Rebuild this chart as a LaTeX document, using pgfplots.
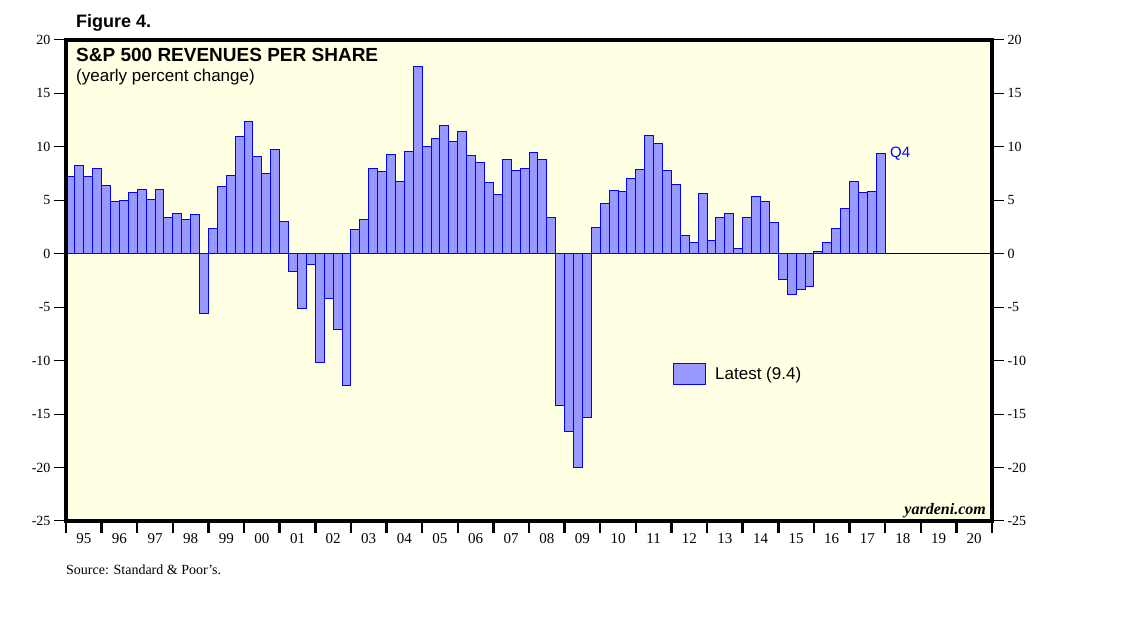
\documentclass[border=0pt]{standalone}
\usepackage{fontspec}
\setmainfont{Liberation Serif}
\newfontfamily\arial{Liberation Sans}
\usepackage{pgfplots}
\pgfplotsset{compat=1.18}
\usepackage{pgfplotstable}
\definecolor{bgyellow}{RGB}{255,255,227}
\definecolor{barfill}{RGB}{153,153,255}

% quarterly yearly % change, 1995Q1 ... 2017Q4 (x = quarter index centre)
\pgfplotstableread{
q v
0.5 7.2
1.5 8.3
2.5 7.2
3.5 8.0
4.5 6.4
5.5 4.9
6.5 5.0
7.5 5.7
8.5 6.0
9.5 5.1
10.5 6.05
11.5 3.4
12.5 3.8
13.5 3.25
14.5 3.7
15.5 -5.55
16.5 2.4
17.5 6.3
18.5 7.35
19.5 11.0
20.5 12.4
21.5 9.1
22.5 7.55
23.5 9.8
24.5 3.06
25.5 -1.7
26.5 -5.1
27.5 -1.0
28.5 -10.2
29.5 -4.2
30.5 -7.1
31.5 -12.3
32.5 2.3
33.5 3.25
34.5 8.0
35.5 7.7
36.5 9.3
37.5 6.8
38.5 9.6
39.5 17.5
40.5 10.0
41.5 10.8
42.5 12.0
43.5 10.5
44.5 11.4
45.5 9.2
46.5 8.5
47.5 6.7
48.5 5.5
49.5 8.85
50.5 7.8
51.5 8.0
52.5 9.5
53.5 8.85
54.5 3.4
55.5 -14.2
56.5 -16.6
57.5 -19.95
58.5 -15.3
59.5 2.5
60.5 4.7
61.5 5.95
62.5 5.85
63.5 7.0
64.5 7.9
65.5 11.1
66.5 10.35
67.5 7.8
68.5 6.5
69.5 1.75
70.5 1.1
71.5 5.6
72.5 1.2
73.5 3.35
74.5 3.8
75.5 0.45
76.5 3.35
77.5 5.4
78.5 4.85
79.5 2.9
80.5 -2.45
81.5 -3.85
82.5 -3.3
83.5 -3.1
84.5 0.25
85.5 1.1
86.5 2.4
87.5 4.2
88.5 6.8
89.5 5.7
90.5 5.85
91.5 9.4
}\revs

\begin{document}
\begin{tikzpicture}
\useasboundingbox[fill=white] (0pt,0pt) rectangle (1138pt,621pt);
\begin{axis}[
    at={(66pt,100pt)}, anchor=south west,
    width=926pt, height=481pt, scale only axis,
    xmin=0, xmax=104, ymin=-25, ymax=20,
    axis background/.style={fill=bgyellow},
    axis line style={line width=3.5pt},
    axis on top,
    xtick={0,4,...,104}, xtick pos=bottom,
    x tick label as interval,
    xticklabels={95,96,97,98,99,00,01,02,03,04,05,06,07,08,09,10,11,12,13,14,15,16,17,18,19,20},
    ytick={-25,-20,...,20}, ytick pos=left,
    tick align=outside,
    major tick length=12pt,
    x tick style={line width=2.5pt, black},
    y tick style={line width=1pt, black},
    x tick label style={font=\fontsize{15}{17}\selectfont, yshift=3pt},
    y tick label style={font=\fontsize{14}{16}\selectfont},
    /pgf/number format/assume math mode=true,
    legend style={at={(0.6555,0.3056)}, anchor=west, draw=none, fill=none,
        inner sep=0pt, font=\arial\fontsize{17}{19}\selectfont},
    legend image code/.code={\draw[#1] (0pt,-10.5pt) rectangle (32pt,10.5pt);},
]
\draw[black, line width=1pt] (axis cs:0,0) -- (axis cs:104,0);
\addplot[ybar, bar width=1, bar shift=0pt, fill=barfill, draw=blue, line width=1pt]
    table[x=q, y=v] {\revs};
\addlegendentry{\hspace*{7pt}Latest (9.4)}
\end{axis}
\begin{axis}[
    at={(66pt,100pt)}, anchor=south west,
    width=926pt, height=481pt, scale only axis,
    xmin=0, xmax=104, ymin=-25, ymax=20,
    axis x line=none, axis y line*=right,
    axis line style={line width=3.5pt},
    ytick={-25,-20,...,20},
    tick align=outside,
    major tick length=12pt,
    y tick style={line width=1pt, black},
    y tick label style={font=\fontsize{14}{16}\selectfont},
    /pgf/number format/assume math mode=true,
]
\addplot[draw=none] coordinates {(0,0)};
\end{axis}
\node[anchor=base west, inner sep=0pt, font=\arial\bfseries\fontsize{18}{20}\selectfont] at (76pt,593.7pt) {Figure 4.};
\node[anchor=base west, inner sep=0pt, font=\arial\bfseries\fontsize{19}{21}\selectfont] at (76pt,559.3pt) {S\&P 500 REVENUES PER SHARE};
\node[anchor=base west, inner sep=0pt, font=\arial\fontsize{17}{19}\selectfont] at (76pt,539.5pt) {(yearly percent change)};
\node[anchor=base west, inner sep=0pt, text=blue, font=\arial\fontsize{15}{17}\selectfont] at (890pt,463pt) {Q4};
\node[anchor=base east, inner sep=0pt, font=\bfseries\itshape\fontsize{16}{18}\selectfont] at (986pt,106.7pt) {yardeni.com};
\node[anchor=base west, inner sep=0pt, font=\fontsize{14}{16}\selectfont] at (66pt,46pt) {Source: Standard \& Poor’s.};
\end{tikzpicture}
\end{document}
